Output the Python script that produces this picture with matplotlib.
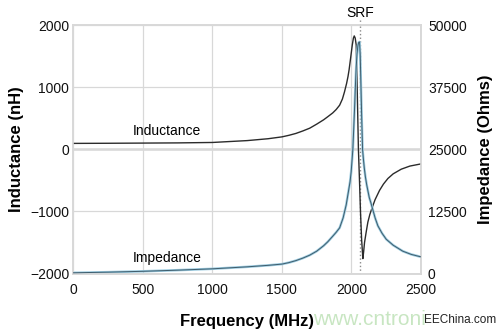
import matplotlib
matplotlib.use("Agg")
import matplotlib.pyplot as plt

plt.rcParams['font.family'] = ['Liberation Sans', 'DejaVu Sans']

# Inductance readings (MHz, nH)
freqInd = [0, 250, 500, 750, 1000, 1250, 1400, 1500, 1550, 1600, 1650, 1700,
           1750, 1800, 1830, 1865, 1890, 1915, 1935, 1950, 1965, 1975, 1983,
           1990, 1998, 2006, 2014, 2020, 2027, 2034, 2042, 2050, 2058, 2065,
           2073, 2082, 2088, 2094, 2106, 2118, 2132, 2147, 2170, 2202, 2230,
           2262, 2300, 2358, 2420, 2500]
inductance = [95, 97, 100, 103, 110, 140, 170, 200, 225, 255, 295, 340,
              405, 475, 525, 585, 640, 710, 810, 925, 1060, 1170, 1280,
              1400, 1540, 1680, 1790, 1825, 1790, 1680, 900, 0, -520, -1010,
              -1450, -1760, -1640, -1500, -1330, -1172, -1050, -950, -810, -661, -560,
              -470, -395, -320, -270, -235]

# Impedance readings (MHz, Ohms)
freqImp = [0, 250, 500, 750, 1000, 1250, 1400, 1500, 1550, 1600, 1650, 1700,
           1750, 1800, 1830, 1865, 1890, 1915, 1940, 1962, 1980, 1990, 1998,
           2010, 2016, 2022, 2028, 2034, 2040, 2046, 2052, 2058, 2063, 2068,
           2074, 2080, 2086, 2092, 2100, 2110, 2120, 2128, 2140, 2150, 2170,
           2190, 2220, 2250, 2300, 2369, 2430, 2500]
impedance = [150, 280, 450, 680, 950, 1350, 1650, 1900, 2200, 2600, 3100, 3700,
             4500, 5600, 6400, 7500, 8300, 9200, 11200, 13800, 16800, 18500, 20500,
             25000, 29000, 33000, 37500, 41500, 44200, 45800, 46500, 46600, 44000, 38000,
             31000, 24900, 23000, 21300, 19500, 17800, 16400, 15300, 14200, 13200, 11200,
             9600, 8100, 6900, 5700, 4500, 3850, 3350]

xTicks = [0, 500, 1000, 1500, 2000, 2500]
leftTicks = [-2000, -1000, 0, 1000, 2000]
rightTicks = [0, 12500, 25000, 37500, 50000]
srfFreq = 2060

gridColor = '#d8d8d8'

fig = plt.figure(figsize=(5, 3.34), dpi=100)
ax = fig.add_axes([0.1466, 0.181, 0.6954, 0.744])
ax2 = ax.twinx()

# 网格和边框
ax.set_xlim(0, 2500)
ax.set_ylim(-2000, 2000)
ax2.set_ylim(0, 50000)
ax.set_xticks(xTicks)
ax.set_yticks(leftTicks)
ax2.set_yticks(rightTicks)
ax.grid(True, color=gridColor, linewidth=0.9)
ax.axhline(0, color=gridColor, linewidth=1.8, zorder=0.5)
for a in (ax, ax2):
    for s in a.spines.values():
        s.set_color(gridColor)
        s.set_linewidth(1.2)
ax.tick_params(axis='both', length=0, labelsize=10, colors='#111111')
ax.tick_params(axis='x', pad=7)
ax.tick_params(axis='y', pad=3)
ax2.tick_params(axis='y', length=0, labelsize=10, colors='#111111', pad=5)

# SRF 虚线
ax.axvline(srfFreq, color='#8a8a8a', linestyle=':', linewidth=1.0, clip_on=False)
ax.plot([srfFreq, srfFreq], [2000, 2080], color='#8a8a8a', linestyle=':',
        linewidth=1.0, clip_on=False)
ax.text(srfFreq, 2200, 'SRF', ha='center', va='center', fontsize=10)

# 曲线
ax.plot(freqInd, inductance, color='#2b2b2b', linewidth=1.0, zorder=3)
ax2.plot(freqImp, impedance, color='#9ccbe0', linewidth=1.8, zorder=2)
ax2.plot(freqImp, impedance, color='#3d5c6c', linewidth=0.7, zorder=3)

ax.text(676, 290, 'Inductance', ha='center', va='center', fontsize=10)
ax.text(673, -1742, 'Impedance', ha='center', va='center', fontsize=10)

ax.set_xlabel('Frequency (MHz)', fontsize=12, fontweight='bold', labelpad=12)
ax.set_ylabel('Inductance (nH)', fontsize=12, fontweight='bold', labelpad=4)
ax2.set_ylabel('Impedance (Ohms)', fontsize=12, fontweight='bold', labelpad=8)

# 水印
fig.text(0.626, 0.042, 'www.cntroni', color='#c8e6c2', fontsize=15,
         ha='left', va='center')
fig.text(0.848, 0.042, 'EEChina.com', color='#222222', fontsize=8.5,
         ha='left', va='center')

fig.savefig('out.png', dpi=100)
